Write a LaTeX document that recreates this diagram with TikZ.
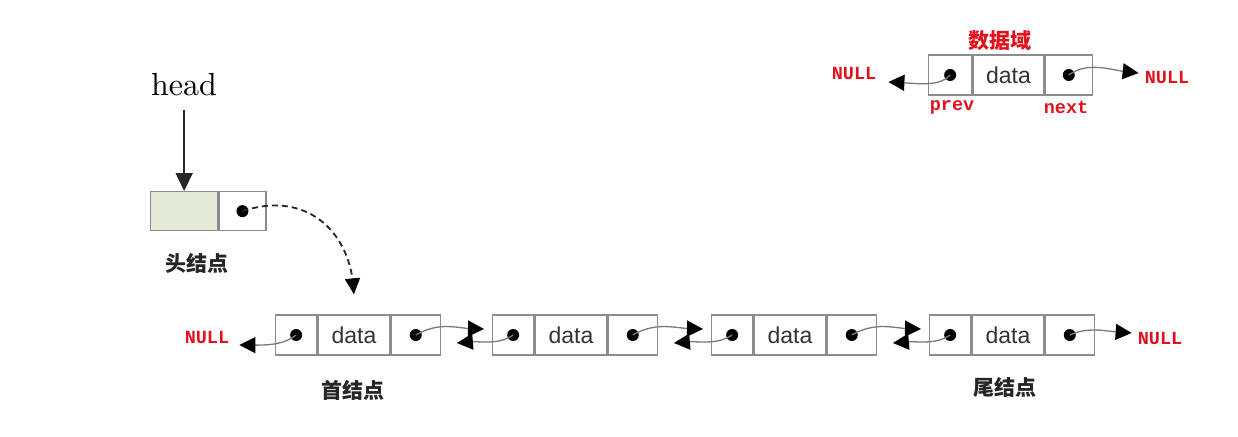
\documentclass[tikz,border=0pt]{standalone}
\usepackage{fontspec}
\usetikzlibrary{arrows.meta,bending,calc}
\newfontfamily\cjk{Noto Sans CJK SC}
\newfontfamily\sansf{Liberation Sans}
\newfontfamily\monof{Liberation Mono}
\newfontfamily\headf{lmroman10-regular.otf}
\definecolor{boxgray}{HTML}{8C8C8C}
\definecolor{conngray}{HTML}{857676}
\definecolor{nullred}{HTML}{E0141E}
\definecolor{headgreen}{HTML}{E3EAD6}
\begin{document}
\begin{tikzpicture}[x=1pt,y=-1pt,
  cellbase/.style={draw=boxgray,line width=1.3pt,minimum height=40pt,inner sep=0pt,anchor=west},
  cellp/.style={cellbase,minimum width=41pt},
  celld/.style={cellbase,minimum width=72pt,font=\sansf\fontsize{23}{25}\selectfont,text=black!80},
  celln/.style={cellbase,minimum width=49pt},
  dotn/.style={circle,fill=black,inner sep=0pt,minimum size=12pt},
  conn/.style={draw=conngray,line width=1.3pt,-{Triangle[length=16pt,width=16pt,color=black]}},
  nulltxt/.style={font=\monof\bfseries\fontsize{18.5}{20}\selectfont,text=nullred,inner sep=0pt},
  cjklabel/.style={font=\cjk\bfseries\fontsize{21}{24}\selectfont,text=black!85},
]
\useasboundingbox[fill=white] (0,0) rectangle (1238,436);

% ---- top legend node ----
\node[cellp,minimum width=43pt] (tp) at (928,75) {};
\node[celld,minimum width=71pt] (td) at (tp.east) {data};
\node[celln,minimum width=47pt] (tn) at (td.east) {};
\node[dotn] (tpd) at (tp.center) {};
\node[dotn] (tnd) at (tn.center) {};
\node[font=\cjk\bfseries\fontsize{21}{24}\selectfont,text=nullred] (sjy) at (1000,41) {数据域};
\node[nulltxt] (tnullL) at (854,73) {NULL};
\node[nulltxt] (tnullR) at (1167,77) {NULL};
\node[nulltxt] (prevt) at (952,107) {prev};
\node[nulltxt] (nextt) at (1066,107) {next};
\coordinate (tl) at ($(tnullL.east)+(12,9)$);
\coordinate (tr) at ($(tnullR.west)+(-6,-4)$);
\draw[conn] (tpd.center) .. controls +(-12,14) and +(22,0) .. (tl);
\draw[conn] (tnd.center) .. controls +(22,-16) and +(-22,0) .. (tr);

% ---- head ----
\node[font=\headf\fontsize{32}{34}\selectfont] (headtxt) at (184,85) {head};
\node[draw=boxgray,fill=headgreen,line width=1.3pt,minimum width=67pt,minimum height=39pt,inner sep=0pt,anchor=north west] (hg) at (150,191) {};
\node[cellbase,minimum width=47pt,minimum height=39pt] (hp) at (hg.east) {};
\node[dotn] (hd) at (hp.center) {};
\node[cjklabel] (htj) at (197,263) {头结点};
\draw[line width=1.8pt,draw=black!85,-{Triangle[length=18pt,width=17pt]},shorten <=10pt] (headtxt.south -| hg.north) -- (hg.north);

% ---- list ----
\foreach \i/\x in {1/275,2/492,3/711,4/929} {
  \node[cellp] (p\i) at (\x,335) {};
  \node[celld] (d\i) at (p\i.east) {data};
  \node[celln] (n\i) at (d\i.east) {};
  \node[dotn] (pd\i) at (p\i.center) {};
  \node[dotn] (nd\i) at (n\i.center) {};
}
\foreach \i [evaluate=\i as \j using int(\i+1)] in {1,2,3} {
  \coordinate (f\j) at ($(p\j.west)+(-8,-6)$);
  \coordinate (b\i) at ($(n\i.east)+(16,8)$);
  \draw[conn] (nd\i.center) .. controls +(28,-16) and +(-22,2) .. (f\j);
  \draw[conn] (pd\j.center) .. controls +(-18,12) and +(22,-4) .. (b\i);
}
\node[nulltxt] (bnullL) at (207,337) {NULL};
\node[nulltxt] (bnullR) at (1160,338) {NULL};
\coordinate (bl) at ($(bnullL.east)+(10,8)$);
\coordinate (br) at ($(bnullR.west)+(-6,-5)$);
\draw[conn] (pd1.center) .. controls +(-15,12) and +(22,0) .. (bl);
\draw[conn] (nd4.center) .. controls +(22,-10) and +(-22,0) .. (br);

\coordinate (dt) at ($(d1.north)+(0,-20)$);
\draw[line width=1.8pt,draw=black!85,dash pattern=on 6pt off 4pt,-{Triangle[length=16pt,width=15pt,color=black]}] (hd.center) .. controls (305,190) and (352,230) .. (dt);

\node[cjklabel] (sjd) at (353,390) {首结点};
\node[cjklabel] (wjd) at (1005,387) {尾结点};
\end{tikzpicture}
\end{document}
